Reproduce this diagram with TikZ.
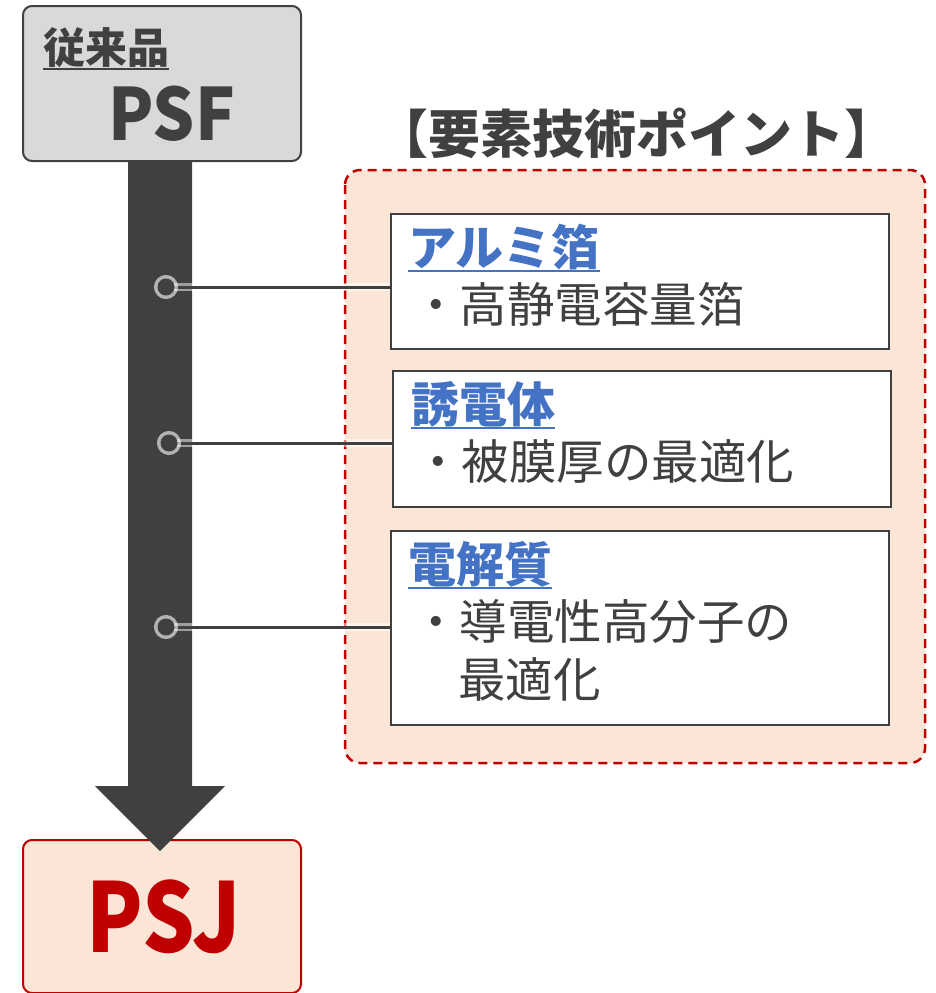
\documentclass[tikz,border=0pt]{standalone}
\usepackage{fontspec}
\setmainfont{Noto Sans CJK JP}
\usepackage{xcolor}
\usepackage{graphicx}
\usetikzlibrary{positioning}

\definecolor{inkgray}{HTML}{404040}
\definecolor{headgray}{HTML}{D9D9D9}
\definecolor{peach}{HTML}{FBE5D6}
\definecolor{darkred}{HTML}{C00000}
\definecolor{linkblue}{HTML}{4472C4}

\tikzset{
  headbox/.style={draw=inkgray, line width=2pt, rounded corners=9pt, fill=headgray, anchor=north west, minimum width=278pt, minimum height=155pt},
  pointbox/.style={draw=inkgray, line width=1.5pt, fill=white, anchor=north west, minimum width=498pt},
  boxtitle/.style={text=linkblue, font=\fontsize{48}{52}\selectfont\bfseries, anchor=base west},
  boxtext/.style={text=inkgray, font=\fontsize{47.5}{52}\selectfont, anchor=base west},
  joint/.style={circle, fill=inkgray, minimum size=17pt, preaction={draw=white, line width=7pt, draw opacity=0.6}},
  conn/.style={inkgray, line width=3pt, preaction={draw=white, line width=8pt, opacity=0.5}},
  uline/.style={line width=2.5pt}
}

\begin{document}
\begin{tikzpicture}[x=1pt, y=-1pt, every node/.style={inner sep=0pt}]
    \useasboundingbox (0,0) rectangle (935,993);

    % Old product
    \node[headbox] (psf) at (22,5) {};
    \node[anchor=base west, text=inkgray, font=\fontsize{42}{46}\selectfont\bfseries] (oldlabel) at (43,63) {従来品};
    \draw[inkgray, uline] ([yshift=-6pt]oldlabel.base west) -- ([yshift=-6pt]oldlabel.base east);
    \node[anchor=base west, text=inkgray, font=\fontsize{72}{76}\selectfont\bfseries] (psfname) at (108,140) {\scalebox{0.92}[1]{PSF}};

    % New product
    \node[headbox, draw=darkred, fill=peach, minimum height=153pt] (psj) at (22,839) {};
    \node[anchor=base west, text=darkred, font=\fontsize{96}{100}\selectfont\bfseries] (psjname) at (86,952) {\scalebox{0.86}[1]{PSJ}};

    % Big arrow
    \fill[inkgray] (128,160) -- (192,160) -- (192,786) -- (225,786) -- (160,851)
        -- (95,786) -- (128,786) -- cycle;

    % Key technology area
    \node[anchor=base, text=inkgray, font=\fontsize{52}{56}\selectfont\bfseries] (heading) at (636,153) {【要素技術ポイント】};
    \draw[darkred, line width=2.5pt, dash pattern=on 9pt off 6pt, fill=peach, rounded corners=15pt]
        (345,170) rectangle (925,763);

    % Aluminium foil
    \node[pointbox, minimum height=135pt] (foil) at (390,213) {};
    \node[boxtitle] (foiltitle) at (408,265) {アルミ箔};
    \draw[linkblue, uline] ([yshift=-6pt]foiltitle.base west) -- ([yshift=-6pt]foiltitle.base east);
    \node[boxtext] (foiltext) at (412,322) {・高静電容量箔};

    % Dielectric
    \node[pointbox, minimum height=136pt] (dielec) at (392,370) {};
    \node[boxtitle] (dielectitle) at (411,422) {誘電体};
    \draw[linkblue, uline] ([yshift=-6pt]dielectitle.base west) -- ([yshift=-6pt]dielectitle.base east);
    \node[boxtext] (dielectext) at (414,479) {・被膜厚の最適化};

    % Electrolyte
    \node[pointbox, minimum height=194pt] (elyte) at (390,530) {};
    \node[boxtitle] (elytetitle) at (408,582) {電解質};
    \draw[linkblue, uline] ([yshift=-6pt]elytetitle.base west) -- ([yshift=-6pt]elytetitle.base east);
    \node[boxtext] (elytetext) at (412,639) {・導電性高分子の};
    \node[boxtext] (elytetextb) at (458,697) {最適化};

    % Connectors
    \coordinate (cfoil) at (166,287);
    \coordinate (cdielec) at (169,443);
    \coordinate (celyte) at (166,627);
    \draw[conn] (cfoil) -- (cfoil -| foil.west);
    \draw[conn] (cdielec) -- (cdielec -| dielec.west);
    \draw[conn] (celyte) -- (celyte -| elyte.west);
    \node[joint] (jfoil) at (cfoil) {};
    \node[joint] (jdielec) at (cdielec) {};
    \node[joint] (jelyte) at (celyte) {};
\end{tikzpicture}
\end{document}
